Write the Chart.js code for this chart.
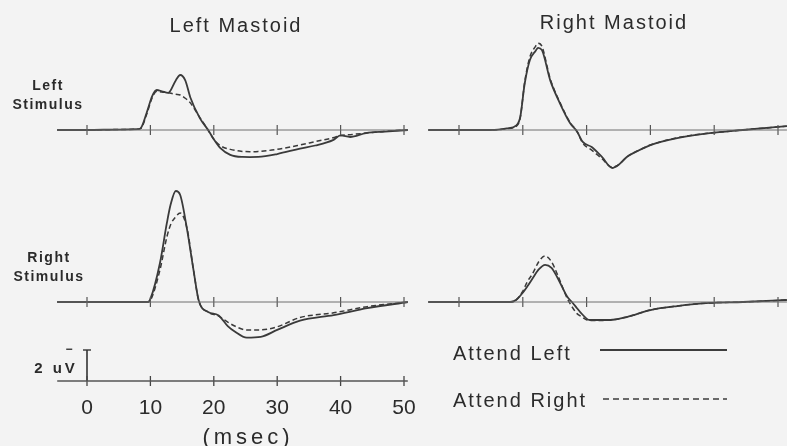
<!DOCTYPE html>
<html>
<head>
<meta charset="utf-8">
<script src="https://cdn.jsdelivr.net/npm/chart.js@4.4.1/dist/chart.umd.min.js"></script>
<style>
  body { margin: 0; background: #f3f3f3; }
  #fig { position: relative; width: 787px; height: 446px; overflow: hidden;
         font-family: 'Liberation Sans', Arial, sans-serif; color: #2b2b2b; }
  #fig canvas { position: absolute; }
  .lbl { position: absolute; white-space: nowrap; transform: translate(-50%, -50%); }
  .title { font-size: 20px; letter-spacing: 2px; }
  .row { font-size: 14px; font-weight: bold; letter-spacing: 1.5px; text-align: center; line-height: 19px; }
  .leg { position: absolute; font-size: 20px; letter-spacing: 2px; transform: translateY(-50%); white-space: nowrap; }
</style>
</head>
<body>
<div id="fig">
  <canvas id="tl"></canvas>
  <canvas id="tr"></canvas>
  <canvas id="bl"></canvas>
  <canvas id="br"></canvas>
  <canvas id="axis"></canvas>

  <div class="lbl title" style="left:236px; top:25px;">Left Mastoid</div>
  <div class="lbl title" style="left:614px; top:22px;">Right Mastoid</div>
  <div class="lbl row" style="left:48px; top:95px;">Left<br>Stimulus</div>
  <div class="lbl row" style="left:49px; top:267px;">Right<br>Stimulus</div>
  <div class="lbl" style="left:56px; top:367px; font-size:15px; font-weight:bold; letter-spacing:3px;">2 uV</div>
  <div class="lbl" style="left:69px; top:349px; font-size:12px; font-weight:bold;">−</div>
  <div class="lbl" style="left:248px; top:437px; font-size:22px; letter-spacing:4px;">(msec)</div>

  <div class="leg" style="left:453px; top:353px;">Attend Left</div>
  <div class="leg" style="left:453px; top:400px;">Attend Right</div>
  <svg style="position:absolute; left:0; top:0;" width="787" height="446">
    <line x1="600" y1="350" x2="727" y2="350" stroke="#3c3c3c" stroke-width="2"/>
    <line x1="603" y1="399" x2="727" y2="399" stroke="#3c3c3c" stroke-width="1.5" stroke-dasharray="6 4"/>
  </svg>
</div>

<script>
// time (ms) and amplitude (uV)
const tickMs = [0, 10, 20, 30, 40, 50];
const leftBaseline = [-4.7, 50.6];
const rightBaseline = [-4.8, 51.4];

// Left stimulus, left mastoid
const tlTime   = [-4.7, 0, 5, 8, 8.5, 9.4, 10.3, 11.0, 11.8, 12.8, 14.0, 14.7, 15.5, 16.3, 17.8, 19.1, 20, 21, 22.6, 24.5, 25.7, 27, 30, 33.6, 36, 38.8, 40, 41.5, 44, 47, 50.6];
const tlLeft   = [0, 0, 0.03, 0.05, 0.13, 1.1, 2.2, 2.58, 2.5, 2.39, 3.2, 3.55, 3.2, 2.1, 0.77, 0, -0.6, -1.15, -1.6, -1.74, -1.75, -1.74, -1.55, -1.2, -1.0, -0.65, -0.35, -0.45, -0.2, -0.1, 0];
const tlRight  = [0, 0, 0.03, 0.05, 0.1, 1.0, 2.1, 2.5, 2.45, 2.4, 2.3, 2.26, 2.05, 1.75, 0.8, 0, -0.6, -1.0, -1.25, -1.38, -1.4, -1.38, -1.25, -0.97, -0.75, -0.5, -0.35, -0.3, -0.2, -0.08, 0];

// Left stimulus, right mastoid
const trTime   = [-4.8, 0, 5, 7.5, 9.0, 9.6, 10.3, 11.1, 12.0, 12.4, 13.0, 14.3, 15.8, 17.4, 18.5, 19.4, 20.8, 22.4, 24.0, 25.0, 26.3, 28, 30, 34.2, 39.3, 44.5, 51.4];
const trLeft   = [0, 0, 0, 0.1, 0.3, 0.84, 3.0, 4.5, 5.1, 5.3, 5.15, 3.2, 1.74, 0.45, -0.1, -0.77, -1.1, -1.74, -2.45, -2.25, -1.74, -1.35, -0.97, -0.52, -0.2, 0, 0.25];
const trRight  = [0, 0, 0, 0.08, 0.25, 0.8, 3.1, 4.7, 5.4, 5.6, 5.4, 3.3, 1.8, 0.5, -0.1, -0.85, -1.3, -1.85, -2.4, -2.25, -1.74, -1.35, -0.97, -0.5, -0.2, 0, 0.25];

// Right stimulus, left mastoid
const blTime   = [-4.7, 0, 5, 9.6, 10.0, 11.5, 12.6, 13.2, 14.0, 14.7, 15.8, 16.8, 17.6, 19.1, 20.7, 22.2, 23.3, 25.2, 27.4, 30, 33.6, 38.9, 44.2, 50.6];
const blLeft   = [0, 0, 0, 0, 0.2, 2.5, 5.1, 6.3, 7.16, 6.9, 4.64, 2.06, 0.13, -0.65, -0.85, -1.55, -1.9, -2.3, -2.25, -1.8, -1.2, -0.84, -0.4, 0];
const blRight  = [0, 0, 0, 0, 0.1, 2.06, 4.2, 5.0, 5.5, 5.74, 4.7, 2.06, 0.13, -0.65, -0.9, -1.3, -1.55, -1.8, -1.8, -1.6, -1.0, -0.7, -0.3, 0];

// Right stimulus, right mastoid
const brTime   = [-4.8, 0, 5, 8.0, 9.0, 10.0, 10.7, 11.5, 12.5, 13.5, 14.5, 15.4, 17.0, 17.7, 18.5, 19.0, 20.5, 23.7, 26.3, 30, 34.2, 39.3, 44.5, 51.4];
const brLeft   = [0, 0, 0, 0, 0.15, 0.6, 1.0, 1.5, 2.1, 2.4, 2.2, 1.6, 0.32, 0, -0.4, -0.65, -1.16, -1.16, -0.97, -0.52, -0.26, -0.06, 0, 0.13];
const brRight  = [0, 0, 0, 0, 0.15, 0.7, 1.3, 1.8, 2.6, 2.97, 2.6, 1.8, 0.2, -0.3, -0.75, -0.9, -1.2, -1.16, -0.97, -0.52, -0.26, -0.06, 0, 0.13];

// calibration bar
const scaleBarUv = 2;

// layout
const pxPerUv = 15.5;
const leftCol = { zeroX: 87, pxPerMs: 6.34, left: 55, width: 356 };
const rightCol = { zeroX: 459, pxPerMs: 6.38, left: 427, width: 360 };
const topRow = { base: 130, top: 30, height: 150 };
const botRow = { base: 302, top: 180, height: 170 };
const ink = '#3a3a3a';

const pts = (xs, ys) => xs.map((x, i) => ({ x: x, y: ys[i] }));

function place(canvas, col, row) {
    canvas.width = col.width;
    canvas.height = row.height;
    canvas.style.left = col.left + 'px';
    canvas.style.top = row.top + 'px';
}

function makePanel(id, col, row, times, attendLeft, attendRight, baseline) {
    const canvas = document.getElementById(id);
    place(canvas, col, row);
    new Chart(canvas, {
        type: 'line',
        data: {
            datasets: [
                {
                    data: pts(baseline, [0, 0]),
                    borderColor: '#6e6e6e',
                    borderWidth: 1,
                    pointRadius: 0,
                },
                {
                    data: pts(tickMs, tickMs.map(() => 0)),
                    showLine: false,
                    pointStyle: 'line',
                    pointRadius: 5,
                    pointRotation: 90,
                    pointBorderWidth: 1.2,
                    pointBorderColor: '#555',
                    clip: false,
                },
                {
                    label: 'Attend Left',
                    data: pts(times, attendLeft),
                    borderColor: ink,
                    borderWidth: 1.8,
                    pointRadius: 0,
                    cubicInterpolationMode: 'monotone',
                },
                {
                    label: 'Attend Right',
                    data: pts(times, attendRight),
                    borderColor: ink,
                    borderWidth: 1.5,
                    borderDash: [5, 3],
                    pointRadius: 0,
                    cubicInterpolationMode: 'monotone',
                },
            ]
        },
        options: {
            responsive: false,
            animation: false,
            events: [],
            layout: { padding: 0, autoPadding: false },
            plugins: { legend: { display: false }, tooltip: { enabled: false } },
            scales: {
                x: {
                    type: 'linear', display: false,
                    min: (col.left - col.zeroX) / col.pxPerMs,
                    max: (col.left + col.width - col.zeroX) / col.pxPerMs,
                },
                y: {
                    display: false,
                    min: -(row.top + row.height - row.base) / pxPerUv,
                    max: (row.base - row.top) / pxPerUv,
                }
            }
        }
    });
}

makePanel('tl', leftCol, topRow, tlTime, tlLeft, tlRight, leftBaseline);
makePanel('tr', rightCol, topRow, trTime, trLeft, trRight, rightBaseline);
makePanel('bl', leftCol, botRow, blTime, blLeft, blRight, leftBaseline);
makePanel('br', rightCol, botRow, brTime, brLeft, brRight, rightBaseline);

// time axis with calibration bar
const axisCol = { zeroX: 87, pxPerMs: 6.34, left: 20, width: 420 };
const axisRow = { base: 381, top: 340, height: 100 };
const axisCanvas = document.getElementById('axis');
place(axisCanvas, axisCol, axisRow);
new Chart(axisCanvas, {
    type: 'line',
    data: {
        datasets: [
            {
                data: pts(leftBaseline, [0, 0]),
                borderColor: '#555',
                borderWidth: 1.3,
                pointRadius: 0,
                clip: false,
            },
            {
                data: pts(tickMs, tickMs.map(() => 0)),
                showLine: false,
                pointStyle: 'line',
                pointRadius: 5,
                pointRotation: 90,
                pointBorderWidth: 1.3,
                pointBorderColor: '#444',
                clip: false,
            },
            {
                data: pts([0, 0], [0, scaleBarUv]),
                borderColor: '#333',
                borderWidth: 1.6,
                pointRadius: [0, 4],
                pointStyle: 'line',
                pointBorderWidth: 1.4,
                pointBorderColor: '#333',
                clip: false,
            },
        ]
    },
    options: {
        responsive: false,
        animation: false,
        events: [],
        layout: { padding: 0, autoPadding: false },
        plugins: { legend: { display: false }, tooltip: { enabled: false } },
        scales: {
            x: {
                type: 'linear',
                position: 'bottom',
                min: (axisCol.left - axisCol.zeroX) / axisCol.pxPerMs,
                max: (axisCol.left + axisCol.width - axisCol.zeroX) / axisCol.pxPerMs,
                grid: { display: false },
                border: { display: false },
                afterBuildTicks: axis => { axis.ticks = tickMs.map(v => ({ value: v })); },
                afterFit: scale => { scale.height = axisRow.top + axisRow.height - axisRow.base; },
                ticks: {
                    color: '#2b2b2b',
                    padding: 7,
                    maxRotation: 0,
                    autoSkip: false,
                    font: { family: "'Liberation Sans', Arial, sans-serif", size: 21 },
                }
            },
            y: {
                display: false,
                min: 0,
                max: (axisRow.base - axisRow.top) / pxPerUv,
            }
        }
    }
});
</script>
</body>
</html>
